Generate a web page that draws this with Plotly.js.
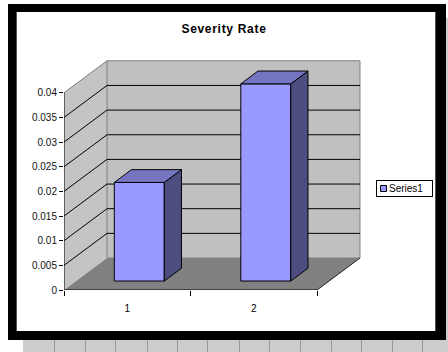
<!DOCTYPE html>
<html>
<head>
<meta charset="utf-8">
<script src="https://cdn.plot.ly/plotly-3.0.1.min.js"></script>
<style>
  html, body { margin:0; padding:0; background:#fff; }
  #stage { position:relative; width:448px; height:352px; overflow:hidden; }
  .abs { position:absolute; }
  #chart { position:absolute; left:0; top:0; width:448px; height:352px; }
  #chart .gtitle { letter-spacing:0.7px; }
</style>
</head>
<body>
<div id="stage">
  <div class="abs" style="left:8px;top:4px;width:438px;height:336px;background:#000;"></div>
  <div class="abs" style="left:16px;top:12px;width:418px;height:319px;background:#fff;border-left:1px solid #555;border-right:1px solid #555;"></div>
  <div class="abs" id="sheet" style="left:23px;top:340px;width:425px;height:12px;background:#cdcdcd;"></div>
  <div class="abs" style="left:446px;top:18px;width:2px;height:334px;background:#cdcdcd;"></div>
  <div id="chart"></div>
</div>
<script>
// ---- data ----
const categories = [1, 2];
const categoryLabels = ['1', '2'];
const severity = [0.02, 0.04];
const seriesName = 'Series1';
const chartTitle = 'Severity Rate';
const yTickVals = [0, 0.005, 0.01, 0.015, 0.02, 0.025, 0.03, 0.035, 0.04];
const yTickText = ['0', '0.005', '0.01', '0.015', '0.02', '0.025', '0.03', '0.035', '0.04'];
const categoryBounds = [0.5, 1.5, 2.5];

// ---- spreadsheet grid decoration ----
const sheetLines = [54, 85, 115, 147, 177, 207, 239, 269, 300, 331, 361, 392, 422];
const sheet = document.getElementById('sheet');
sheetLines.forEach(function (px) {
  const d = document.createElement('div');
  d.className = 'abs';
  d.style.cssText = 'left:' + (px - 23) + 'px;top:0;width:1px;height:12px;background:#999;';
  sheet.appendChild(d);
});

// ---- 3D oblique geometry (axis units) ----
const PX_PER_CAT = 126.5, PX_PER_UNIT = 4930;
const DX = 43 / PX_PER_CAT;      // depth offset in category units
const DY = 32 / PX_PER_UNIT;     // depth offset in value units
const F0 = 0.28;                 // bar front plane (fraction of depth)
const BD = 0.40;                 // bar depth (fraction of depth)
const BW = 0.395;                // bar width (category units)
const WALL_TOP = yTickVals[yTickVals.length - 1];
const X0 = categoryBounds[0], X1 = categoryBounds[categoryBounds.length - 1];

const base = F0 * DY;
const front = {
  type: 'bar', name: seriesName,
  x: categories.map(c => c + F0 * DX),
  y: severity, base: base, width: BW,
  marker: { color: '#9999ff', line: { color: '#000', width: 1 } },
  hoverinfo: 'skip', showlegend: true
};

const sx = [], sy = [], tx = [], ty = [];
categories.forEach(function (c, i) {
  const xl = c + F0 * DX - BW / 2, xr = c + F0 * DX + BW / 2;
  const top = base + severity[i];
  const ox = BD * DX, oy = BD * DY;
  sx.push(xr, xr + ox, xr + ox, xr, xr, null);
  sy.push(base, base + oy, top + oy, top, base, null);
  tx.push(xl, xr, xr + ox, xl + ox, xl, null);
  ty.push(top, top, top + oy, top + oy, top, null);
});
const side = { type: 'scatter', mode: 'lines', x: sx, y: sy, fill: 'toself', fillcolor: '#4d4d80',
  line: { color: '#000', width: 1 }, showlegend: false, hoverinfo: 'skip' };
const topFace = { type: 'scatter', mode: 'lines', x: tx, y: ty, fill: 'toself', fillcolor: '#7575c2',
  line: { color: '#000', width: 1 }, showlegend: false, hoverinfo: 'skip' };

// ---- walls, floor and gridlines ----
const shapes = [];
function line(xa, ya, xb, yb, color) {
  shapes.push({ type: 'line', layer: 'below', xref: 'x', yref: 'y', x0: xa, y0: ya, x1: xb, y1: yb,
    line: { color: color, width: 1 } });
}
shapes.push({ type: 'path', layer: 'below', xref: 'x', yref: 'y',
  path: 'M' + X0 + ',0 L' + (X0 + DX) + ',' + DY + ' L' + (X0 + DX) + ',' + (WALL_TOP + DY) + ' L' + X0 + ',' + WALL_TOP + ' Z',
  fillcolor: '#c4c4c4', line: { width: 0 } });
shapes.push({ type: 'rect', layer: 'below', xref: 'x', yref: 'y', x0: X0 + DX, x1: X1 + DX, y0: DY, y1: WALL_TOP + DY,
  fillcolor: '#c0c0c0', line: { color: '#808080', width: 1 } });
shapes.push({ type: 'path', layer: 'below', xref: 'x', yref: 'y',
  path: 'M' + X0 + ',0 L' + X1 + ',0 L' + (X1 + DX) + ',' + DY + ' L' + (X0 + DX) + ',' + DY + ' Z',
  fillcolor: '#808080', line: { width: 0 } });
yTickVals.slice(1, -1).forEach(function (v) {
  line(X0 + DX, v + DY, X1 + DX, v + DY, '#000');
  line(X0, v, X0 + DX, v + DY, '#000');
});
line(X0, WALL_TOP, X0 + DX, WALL_TOP + DY, '#808080');
line(X1, 0, X1 + DX, DY, '#222');
line(X0, 0, X1, 0, '#000');
line(X0, 0, X0, WALL_TOP, '#000');

const FONT = 'Liberation Sans, Arial, sans-serif';
const layout = {
  width: 448, height: 352,
  margin: { l: 64, r: 64, t: 50, b: 62, pad: 0, autoexpand: false },
  paper_bgcolor: 'rgba(0,0,0,0)', plot_bgcolor: 'rgba(0,0,0,0)',
  title: { text: '<b>' + chartTitle + '</b>', font: { family: FONT, size: 12, color: '#000' },
    x: 0.5, xref: 'container', xanchor: 'center', y: 1 - 29 / 352, yref: 'container', yanchor: 'middle' },
  xaxis: { range: [X0, X0 + 320 / PX_PER_CAT], tickvals: categories, ticktext: categoryLabels,
    ticks: 'outside', ticklen: 9, tickcolor: 'rgba(0,0,0,0)', showgrid: false, zeroline: false, showline: false,
    tickfont: { family: FONT, size: 10, color: '#000' }, fixedrange: true,
    minor: { tickvals: categoryBounds, ticks: 'outside', ticklen: 5, tickcolor: '#000', tickwidth: 1, showgrid: false } },
  yaxis: { range: [0, 240 / PX_PER_UNIT], tickvals: yTickVals, ticktext: yTickText,
    ticks: 'outside', ticklen: 4, tickcolor: '#000', showgrid: false, zeroline: false, showline: false,
    tickfont: { family: FONT, size: 10, color: '#111' }, fixedrange: true },
  showlegend: true,
  legend: { xref: 'container', yref: 'container', x: 376 / 448, y: 1 - 180 / 352, xanchor: 'left', yanchor: 'top',
    bgcolor: '#fff', bordercolor: '#000', borderwidth: 1, font: { family: FONT, size: 10, color: '#000' } },
  shapes: shapes
};

function compactLegend() {
  const leg = document.querySelector('#chart .legend');
  if (!leg) return;
  leg.setAttribute('transform', 'translate(376,180)');
  const bg = leg.querySelector('rect.bg');
  if (bg) { bg.setAttribute('x', 0.5); bg.setAttribute('y', 0.5); bg.setAttribute('width', 56); bg.setAttribute('height', 16); }
  const sb = leg.querySelector('.scrollbox');
  if (sb) sb.setAttribute('transform', 'translate(0,0)');
  leg.querySelectorAll('.traces').forEach(function (t) { t.setAttribute('transform', 'translate(0,8.5)'); });
  leg.querySelectorAll('.legendpoints path').forEach(function (p) {
    p.setAttribute('transform', 'translate(7.5,0) scale(0.5)');
    p.style.strokeWidth = '2px';
    p.style.stroke = '#000';
  });
  leg.querySelectorAll('.legendtext').forEach(function (t) { t.setAttribute('x', 13); });
}

Plotly.newPlot('chart', [front, side, topFace], layout, { staticPlot: true, displayModeBar: false })
  .then(compactLegend);
</script>
</body>
</html>
